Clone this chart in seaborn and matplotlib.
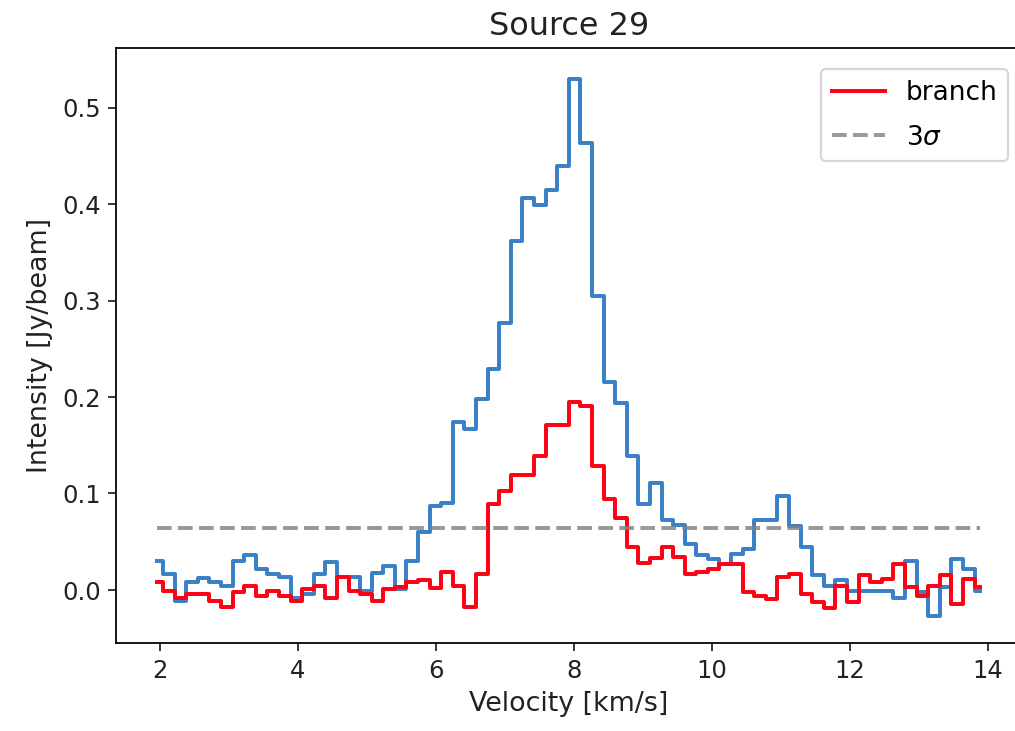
import numpy as np
import pandas as pd
import matplotlib
matplotlib.use('Agg')
import matplotlib.pyplot as plt
import seaborn as sns

# Spectrum channels (km/s)
v_start = 1.96
dv = 0.168
n_chan = 72
velocity = v_start + dv * np.arange(n_chan)

# Full spectrum (blue)
spectrum = [0.030, 0.016, -0.011, 0.008, 0.012, 0.008, 0.004, 0.030, 0.036, 0.022,
            0.017, 0.013, -0.008, -0.004, 0.017, 0.029, 0.013, 0.013, -0.001, 0.018,
            0.025, 0.001, 0.030, 0.060, 0.087, 0.090, 0.174, 0.167, 0.198, 0.229,
            0.277, 0.362, 0.406, 0.399, 0.415, 0.440, 0.530, 0.463, 0.305, 0.216,
            0.194, 0.139, 0.089, 0.111, 0.072, 0.067, 0.048, 0.036, 0.032, 0.027,
            0.037, 0.042, 0.072, 0.072, 0.097, 0.066, 0.044, 0.015, 0.004, 0.010,
            -0.001, -0.001, -0.001, -0.001, -0.008, 0.030, -0.002, -0.027, 0.003, 0.032,
            0.022, -0.001]

# Branch spectrum (red)
branch = [0.008, -0.001, -0.008, -0.004, -0.004, -0.011, -0.018, -0.002, 0.004, -0.006,
          -0.001, -0.006, -0.011, 0.001, 0.004, -0.008, 0.013, -0.001, -0.004, -0.011,
          0.001, 0.003, 0.008, 0.010, 0.002, 0.019, 0.004, -0.018, 0.016, 0.089,
          0.103, 0.119, 0.119, 0.139, 0.171, 0.171, 0.195, 0.191, 0.128, 0.094,
          0.075, 0.044, 0.028, 0.033, 0.044, 0.034, 0.017, 0.019, 0.022, 0.027,
          0.027, -0.002, -0.006, -0.009, 0.013, 0.017, -0.004, -0.013, -0.019, 0.004,
          -0.013, 0.015, 0.008, 0.011, 0.027, 0.003, -0.006, 0.004, 0.015, -0.015,
          0.011, 0.003]

three_sigma = 0.064

df = pd.DataFrame({'velocity': velocity, 'spectrum': spectrum, 'branch': branch})

# the original figure is cropped on the right, so the axes run past the edge
fig = plt.figure(figsize=(6.4, 4.61), dpi=158.6)
ax = fig.add_axes([0.1144, 0.1204, 0.8919, 0.8139])

sns.lineplot(data=df, x='velocity', y='spectrum', color='#3a80c6', lw=1.8,
             drawstyle='steps-mid', estimator=None, ax=ax)
sns.lineplot(data=df, x='velocity', y='branch', color='#ff0015', lw=1.8,
             drawstyle='steps-mid', estimator=None, label='branch', ax=ax)
ax.hlines(three_sigma, velocity[0], velocity[-1], colors='grey', alpha=0.8,
          linestyles='--', lw=1.8, label=r'3$\sigma$')

ax.set_xlim(1.364, 14.484)
ax.set_ylim(-0.055, 0.562)
ax.set_xticks([2, 4, 6, 8, 10, 12, 14])
ax.set_yticks([0.0, 0.1, 0.2, 0.3, 0.4, 0.5])
ax.tick_params(labelsize=11, colors='#222222')
ax.set_title('Source 29', fontsize=14.5, color='#222222')
ax.set_xlabel('Velocity [km/s]', fontsize=12.2, color='#222222')
ax.set_ylabel('Intensity [Jy/beam]', fontsize=12.2, color='#222222')
ax.legend(loc='upper right', bbox_to_anchor=(1.0, 0.986), fontsize=12,
          labelspacing=0.7)

fig.savefig('out.png', dpi=158.6)
